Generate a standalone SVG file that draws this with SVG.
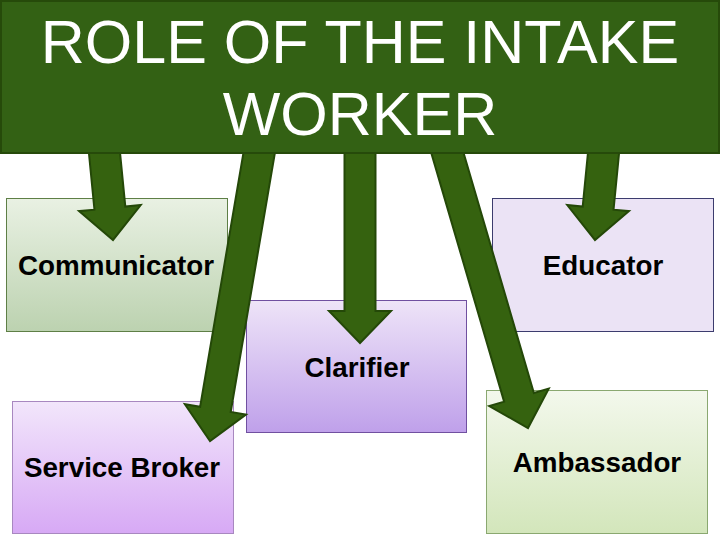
<svg xmlns="http://www.w3.org/2000/svg" width="720" height="540" viewBox="0 0 720 540">
<defs>
<linearGradient id="gGreen" x1="0" y1="0" x2="0" y2="1"><stop offset="0" stop-color="#e9f1e3"/><stop offset="1" stop-color="#bcd2b0"/></linearGradient>
<linearGradient id="gLime" x1="0" y1="0" x2="0" y2="1"><stop offset="0" stop-color="#f3f8ec"/><stop offset="1" stop-color="#d3e6bb"/></linearGradient>
<linearGradient id="gPurple" x1="0" y1="0" x2="0" y2="1"><stop offset="0" stop-color="#eee4f8"/><stop offset="1" stop-color="#bfa0ea"/></linearGradient>
<linearGradient id="gPink" x1="0" y1="0" x2="0" y2="1"><stop offset="0" stop-color="#f2e6fb"/><stop offset="1" stop-color="#d7a9f5"/></linearGradient>
</defs>
<style>
.lbl{font-family:"Liberation Sans",Arial,sans-serif;font-weight:bold;font-size:27.8px;fill:#000;text-anchor:middle}
.title{font-family:"Liberation Sans",Arial,sans-serif;font-size:61px;fill:#fff;text-anchor:middle}
.arrow{fill:#35620f;stroke:#244808;stroke-width:2;stroke-linejoin:miter}
</style>
<rect width="720" height="540" fill="#fff"/>
<g id="communicator">
<rect x="6.5" y="198.5" width="221" height="133" fill="url(#gGreen)" stroke="#5e7f46"/>
<text class="lbl" x="116" y="275">Communicator</text>
</g>
<g id="educator">
<rect x="492.5" y="198.5" width="221" height="133" fill="#ebe3f5" stroke="#3c3c6e"/>
<text class="lbl" x="603" y="275">Educator</text>
</g>
<g id="clarifier">
<rect x="246.5" y="300.5" width="220" height="132" fill="url(#gPurple)" stroke="#7050a0"/>
<text class="lbl" x="357" y="377">Clarifier</text>
</g>
<g id="service-broker">
<rect x="12.5" y="401.5" width="221" height="132" fill="url(#gPink)" stroke="#a888c0"/>
<text class="lbl" x="122" y="477">Service Broker</text>
</g>
<g id="ambassador">
<rect x="486.5" y="390.5" width="221" height="143" fill="url(#gLime)" stroke="#8aa870"/>
<text class="lbl" x="597" y="472">Ambassador</text>
</g>
<g id="connectors">
<polygon class="arrow" transform="translate(104,148) rotate(-5.59)" points="-15.5,0 15.5,0 15.5,60.4 31,60.4 0,92.4 -31,60.4 -15.5,60.4"/>
<polygon class="arrow" transform="translate(604,148) rotate(5.59)" points="-15.5,0 15.5,0 15.5,60.4 31,60.4 0,92.4 -31,60.4 -15.5,60.4"/>
<polygon class="arrow" transform="translate(360,148)" points="-15.5,0 15.5,0 15.5,163 31,163 0,195 -31,163 -15.5,163"/>
<polygon class="arrow" transform="translate(260,148) rotate(9.68)" points="-15.5,0 15.5,0 15.5,265.2 31,265.2 0,297.2 -31,265.2 -15.5,265.2"/>
<polygon class="arrow" transform="translate(446,148) rotate(-16.32)" points="-15.5,0 15.5,0 15.5,259.8 31,259.8 0,291.8 -31,259.8 -15.5,259.8"/>
</g>
<g id="title">
<rect x="1" y="1" width="718" height="152" fill="#336114" stroke="#264a0a" stroke-width="2"/>
<text class="title" x="360" y="63">ROLE OF THE INTAKE</text>
<text class="title" x="360" y="135">WORKER</text>
</g>
</svg>
